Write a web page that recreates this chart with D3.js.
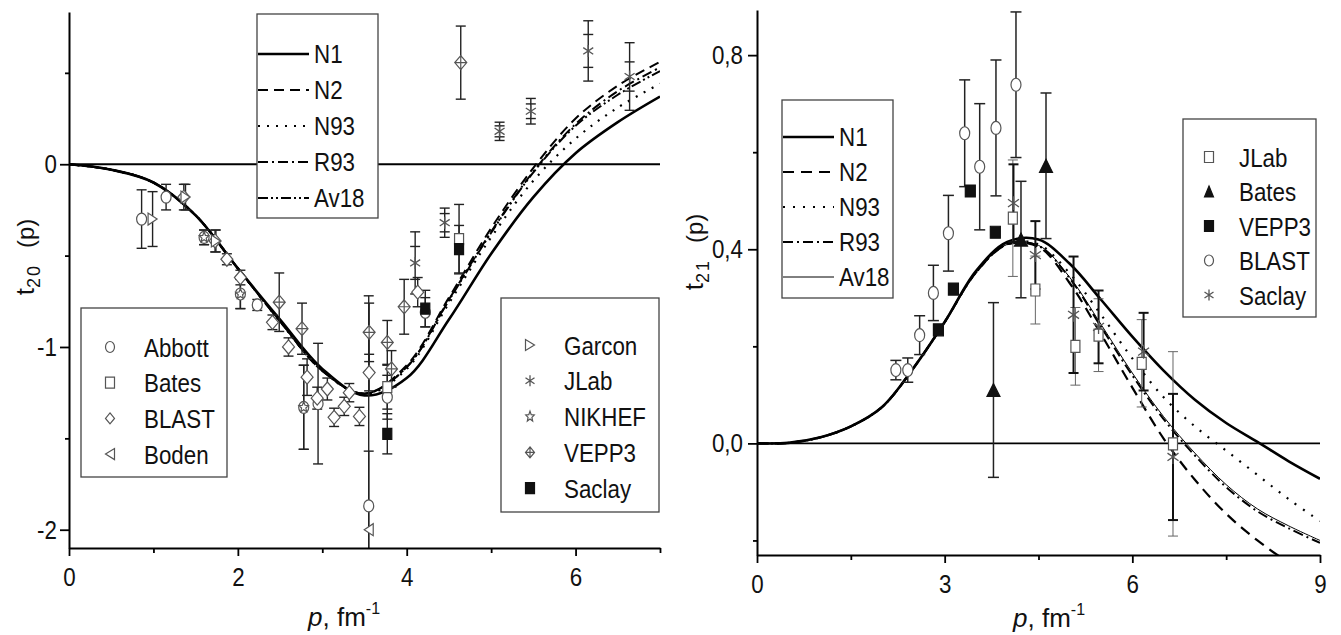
<!DOCTYPE html>
<html><head><meta charset="utf-8">
<script src="https://cdn.jsdelivr.net/npm/d3@7"></script>
<style>body{margin:0;background:#fff}svg{display:block}</style>
</head><body>
<svg id="c" width="1341" height="635"></svg>
<script>
// ---------------- DATA ----------------
const modelNames = ["N1", "N2", "N93", "R93", "Av18"];

// left panel: t20(p)
const t20CurveX = [0, 0.5, 1, 1.5, 2, 2.5, 3, 3.5, 4, 4.5, 5, 5.5, 6, 6.5, 7];
const t20N1   = [0, -0.03, -0.10, -0.28, -0.57, -0.85, -1.12, -1.265, -1.17, -0.85, -0.49, -0.18, 0.06, 0.23, 0.37];
const t20N2   = [0, -0.03, -0.10, -0.28, -0.57, -0.86, -1.13, -1.255, -1.10, -0.73, -0.35, -0.02, 0.25, 0.43, 0.56];
const t20N93  = [0, -0.03, -0.10, -0.28, -0.57, -0.86, -1.13, -1.26, -1.12, -0.76, -0.40, -0.09, 0.14, 0.31, 0.44];
const t20R93  = [0, -0.03, -0.10, -0.28, -0.57, -0.86, -1.13, -1.255, -1.11, -0.74, -0.37, -0.04, 0.22, 0.40, 0.53];
const t20Av18 = [0, -0.03, -0.10, -0.28, -0.57, -0.86, -1.13, -1.255, -1.11, -0.745, -0.375, -0.045, 0.21, 0.38, 0.51];

const t20AbbottX = [0.86, 1.15, 1.60, 2.03, 2.23, 2.78, 2.95, 3.55, 3.77, 4.22];
const t20AbbottY = [-0.30, -0.18, -0.40, -0.71, -0.77, -1.33, -1.31, -1.87, -1.275, -0.81];
const t20AbbottE = [0.16, 0.07, 0.04, 0.08, 0.03, 0.23, 0.33, 0.30, 0.12, 0.08];
const t20BatesX = [3.77, 4.62];
const t20BatesY = [-1.22, -0.41];
const t20BatesE = [0.12, 0.19];
const t20BlastX = [1.36, 1.73, 1.87, 2.03, 2.41, 2.60, 2.82, 2.94, 3.06, 3.14, 3.26, 3.32, 3.44, 3.555, 4.13];
const t20BlastY = [-0.18, -0.42, -0.52, -0.62, -0.865, -1.00, -1.165, -1.28, -1.23, -1.385, -1.325, -1.25, -1.38, -1.14, -0.70];
const t20BlastE = [0.07, 0.06, 0.03, 0.04, 0.04, 0.05, 0.10, 0.06, 0.06, 0.05, 0.05, 0.05, 0.05, 0.10, 0.08];
const t20BodenX = [3.55];
const t20BodenY = [-2.0];
const t20BodenE = [1.28];
const t20GarconX = [0.99, 1.38, 1.74];
const t20GarconY = [-0.30, -0.18, -0.42];
const t20GarconE = [0.15, 0.07, 0.06];
const t20JlabX = [4.10, 4.45, 5.10, 5.47, 6.15, 6.64];
const t20JlabY = [-0.54, -0.32, 0.18, 0.29, 0.62, 0.48];
const t20JlabE = [0.17, 0.08, 0.05, 0.07, 0.165, 0.185];
const t20JlabEstat = [0.09, 0.05, 0.03, 0.04, 0.09, 0.08];
const t20NikhefX = [1.60, 2.03, 2.78];
const t20NikhefY = [-0.40, -0.71, -1.33];
const t20NikhefE = [0.04, 0.08, 0.23];
const t20Vepp3X = [2.49, 2.76, 3.555, 3.77, 3.82, 3.97, 4.64];
const t20Vepp3Y = [-0.755, -0.90, -0.92, -0.975, -1.12, -0.78, 0.556];
const t20Vepp3E = [0.16, 0.14, 0.16, 0.12, 0.10, 0.15, 0.20];
const t20SaclayX = [3.77, 4.22, 4.62];
const t20SaclayY = [-1.475, -0.79, -0.465];
const t20SaclayE = [0.11, 0.10, 0.13];

const t20LegendNames = ["Abbott", "Bates", "BLAST", "Boden"];
const t20LegendNames2 = ["Garcon", "JLab", "NIKHEF", "VEPP3", "Saclay"];
const t20XTicks = [0, 2, 4, 6];
const t20XMinor = [1, 3, 5, 7];
const t20YTicks = [-2, -1, 0];
const t20YMinor = [-1.5, -0.5, 0.5];

// right panel: t21(p)
const t21CurveX = [0, 0.5, 1, 1.5, 2, 2.5, 3, 3.5, 4, 4.5, 5, 5.5, 6, 6.5, 7, 7.5, 8, 8.5, 9];
const t21N1   = [0, 0.001, 0.012, 0.035, 0.075, 0.155, 0.25, 0.355, 0.415, 0.42, 0.37, 0.296, 0.22, 0.15, 0.09, 0.042, 0.003, -0.037, -0.073];
const t21N2   = [0, 0.001, 0.012, 0.035, 0.075, 0.155, 0.25, 0.352, 0.41, 0.405, 0.33, 0.225, 0.115, 0.01, -0.075, -0.145, -0.20, -0.245, -0.28];
const t21N93  = [0, 0.001, 0.012, 0.035, 0.075, 0.155, 0.25, 0.352, 0.412, 0.41, 0.35, 0.265, 0.175, 0.095, 0.035, -0.015, -0.065, -0.115, -0.16];
const t21R93  = [0, 0.001, 0.012, 0.035, 0.075, 0.155, 0.25, 0.352, 0.41, 0.407, 0.34, 0.24, 0.14, 0.05, -0.025, -0.09, -0.14, -0.175, -0.205];
const t21Av18 = [0, 0.001, 0.012, 0.035, 0.075, 0.155, 0.25, 0.352, 0.41, 0.408, 0.342, 0.245, 0.145, 0.055, -0.02, -0.085, -0.135, -0.17, -0.20];

const t21JlabX = [4.09, 4.45, 5.09, 5.46, 6.15, 6.65];
const t21JlabY = [0.464, 0.316, 0.20, 0.223, 0.165, -0.001];
const t21JlabE = [0.12, 0.07, 0.08, 0.075, 0.09, 0.19];
const t21BatesX = [3.78, 4.22, 4.62];
const t21BatesY = [0.11, 0.42, 0.572];
const t21BatesE = [0.18, 0.12, 0.15];
const t21Vepp3X = [2.90, 3.14, 3.41, 3.81];
const t21Vepp3Y = [0.234, 0.318, 0.52, 0.435];
const t21Vepp3E = [0, 0, 0, 0];
const t21BlastX = [2.22, 2.41, 2.60, 2.82, 3.06, 3.32, 3.56, 3.82, 4.14];
const t21BlastY = [0.151, 0.151, 0.223, 0.31, 0.433, 0.639, 0.57, 0.65, 0.739];
const t21BlastE = [0.02, 0.025, 0.04, 0.057, 0.078, 0.11, 0.13, 0.14, 0.15];
const t21SaclayX = [4.10, 4.45, 5.06, 5.46, 6.18, 6.65];
const t21SaclayY = [0.495, 0.388, 0.265, 0.24, 0.189, -0.028];
const t21SaclayE = [0.08, 0.07, 0.12, 0.075, 0.08, 0.13];

const t21LegendNames = ["JLab", "Bates", "VEPP3", "BLAST", "Saclay"];
const t21XTicks = [0, 3, 6, 9];
const t21XMinor = [1.5, 4.5, 7.5];
const t21YTicks = [0, 0.4, 0.8];
const t21YMinor = [-0.2, 0.2, 0.6];

// ---------------- DRAWING ----------------
const FONT = "Arial, 'Liberation Sans', Helvetica, sans-serif";
const SX = 0.86;
const svg = d3.select("#c");

function txt(g, x, y, s, size, anchor) {
  return g.append("text")
    .attr("transform", `translate(${x},${y}) scale(${SX},1)`)
    .attr("font-family", FONT).attr("font-size", size)
    .attr("text-anchor", anchor || "start").attr("fill", "#111").text(s);
}

function markerD(type, w, h) {
  const a = w / 2, b = h / 2;
  switch (type) {
    case "circle": return `M${-a},0A${a},${b} 0 1,0 ${a},0A${a},${b} 0 1,0 ${-a},0Z`;
    case "square": case "fsquare": return `M${-a},${-b}H${a}V${b}H${-a}Z`;
    case "diamond": return `M0,${-b}L${a},0L0,${b}L${-a},0Z`;
    case "diamondPlus": return `M0,${-b}L${a},0L0,${b}L${-a},0ZM0,${-b}V${b}M${-a},0H${a}`;
    case "triL": return `M${-a},0L${a},${-b}L${a},${b}Z`;
    case "triR": return `M${a},0L${-a},${-b}L${-a},${b}Z`;
    case "triUp": return `M0,${-b}L${a},${b}L${-a},${b}Z`;
    case "asterisk": return `M0,${-b}V${b}M${-a},${-b * 0.55}L${a},${b * 0.55}M${-a},${b * 0.55}L${a},${-b * 0.55}`;
    case "star": {
      let d = "";
      for (let i = 0; i < 10; i++) {
        const ang = -Math.PI / 2 + i * Math.PI / 5;
        const r = i % 2 === 0 ? 1 : 0.45;
        d += (i === 0 ? "M" : "L") + (a * r * Math.cos(ang)).toFixed(2) + "," + (b * r * Math.sin(ang)).toFixed(2);
      }
      return d + "Z";
    }
  }
}
function marker(g, type, x, y, w, h) {
  const filled = type === "fsquare" || type === "triUp";
  g.append("path").attr("d", markerD(type, w, h))
    .attr("transform", `translate(${x},${y})`)
    .attr("fill", filled ? "#111" : (type === "asterisk" ? "none" : "#fff"))
    .attr("stroke", filled ? "#111" : "#555")
    .attr("stroke-width", type === "asterisk" ? 1.3 : 1.2);
}

function errorBars(g, sx, sy, xs, ys, es, opt) {
  const cap = opt.cap || 10;
  xs.forEach((x, i) => {
    const e = es[i];
    if (!e) return;
    const X = sx(x), Y1 = sy(ys[i] + e), Y2 = sy(ys[i] - e);
    g.append("line").attr("x1", X).attr("x2", X).attr("y1", Y1).attr("y2", Y2)
      .attr("stroke", opt.color).attr("stroke-width", opt.width);
    [Y1, Y2].forEach(Y => g.append("line").attr("x1", X - cap / 2).attr("x2", X + cap / 2)
      .attr("y1", Y).attr("y2", Y).attr("stroke", opt.color).attr("stroke-width", opt.width));
    if (opt.stat) {
      const s = opt.stat[i];
      [sy(ys[i] + s), sy(ys[i] - s)].forEach(Y => g.append("line").attr("x1", X - cap / 2).attr("x2", X + cap / 2)
        .attr("y1", Y).attr("y2", Y).attr("stroke", opt.color).attr("stroke-width", opt.width));
    }
  });
}

function axes(g, sx, sy, xMaj, xMin, yMaj, yMin, fx, fy, yPad) {
  const y0 = sy.range()[0], x0 = sx.range()[0];
  const style = (sel) => {
    sel.selectAll("path.domain").attr("stroke", "#000").attr("stroke-width", 2);
    sel.selectAll(".tick line").attr("stroke", "#000").attr("stroke-width", 1.8);
    sel.selectAll(".tick text").attr("font-family", FONT).attr("font-size", 26).attr("fill", "#111");
  };
  const xa = g.append("g").attr("transform", `translate(0,${y0})`)
    .call(d3.axisBottom(sx).tickValues(xMaj).tickSize(8).tickSizeOuter(0).tickPadding(12).tickFormat(fx));
  style(xa);
  xa.selectAll(".tick text").attr("transform", `scale(${SX},1)`);
  const xm = g.append("g").attr("transform", `translate(0,${y0})`)
    .call(d3.axisBottom(sx).tickValues(xMin).tickSize(5).tickSizeOuter(0).tickFormat(""));
  style(xm); xm.select("path.domain").remove();
  const ya = g.append("g").attr("transform", `translate(${x0},0)`)
    .call(d3.axisLeft(sy).tickValues(yMaj).tickSize(9).tickSizeOuter(0).tickPadding(yPad).tickFormat(fy));
  style(ya);
  ya.selectAll(".tick text").each(function () {
    const t = d3.select(this); const xx = +t.attr("x");
    t.attr("x", 0).attr("transform", `translate(${xx},0) scale(${SX},1)`);
  });
  const ym = g.append("g").attr("transform", `translate(${x0},0)`)
    .call(d3.axisLeft(sy).tickValues(yMin).tickSize(4).tickSizeOuter(0).tickFormat(""));
  style(ym); ym.select("path.domain").remove();
}

function curves(g, sx, sy, xs, series, styles, clipId) {
  const line = d3.line().x((d) => sx(d[0])).y((d) => sy(d[1])).curve(d3.curveCatmullRom.alpha(0.5));
  const cg = g.append("g").attr("clip-path", `url(#${clipId})`);
  series.forEach((ys, k) => {
    cg.append("path").datum(xs.map((x, i) => [x, ys[i]])).attr("d", line)
      .attr("fill", "none").attr("stroke", "#000")
      .attr("stroke-width", styles[k].w).attr("stroke-dasharray", styles[k].dash || null);
  });
}

function clip(id, sx, sy) {
  svg.append("clipPath").attr("id", id).append("rect")
    .attr("x", sx.range()[0]).attr("y", sy.range()[1])
    .attr("width", sx.range()[1] - sx.range()[0]).attr("height", sy.range()[0] - sy.range()[1]);
}

function lineLegend(g, x0, y0, x1, y1, firstY, step, styles) {
  g.append("rect").attr("x", x0).attr("y", y0).attr("width", x1 - x0).attr("height", y1 - y0)
    .attr("fill", "#fff").attr("stroke", "#444").attr("stroke-width", 1.3);
  modelNames.forEach((n, i) => {
    const y = firstY + i * step;
    g.append("line").attr("x1", x0 + 1).attr("x2", x0 + 52).attr("y1", y).attr("y2", y)
      .attr("stroke", "#000").attr("stroke-width", styles[i].w).attr("stroke-dasharray", styles[i].dash || null);
    txt(g, x0 + 57, y + 9, n, 26, "start");
  });
}
function markerLegend(g, x0, y0, x1, y1, firstY, step, names, types, mx, tx, w, h) {
  g.append("rect").attr("x", x0).attr("y", y0).attr("width", x1 - x0).attr("height", y1 - y0)
    .attr("fill", "#fff").attr("stroke", "#444").attr("stroke-width", 1.3);
  names.forEach((n, i) => {
    const y = firstY + i * step;
    marker(g, types[i], mx, y, w, h);
    txt(g, tx, y + 9.5, n, 26, "start");
  });
}

// ---------- LEFT PANEL ----------
{
  const sx = d3.scaleLinear().domain([0, 7]).range([69, 660]);
  const sy = d3.scaleLinear().domain([-2.1, 0.833]).range([548, 12]);
  clip("clipL", sx, sy);
  const g = svg.append("g");
  g.append("line").attr("x1", sx(0)).attr("x2", sx(7)).attr("y1", sy(0)).attr("y2", sy(0))
    .attr("stroke", "#000").attr("stroke-width", 1.8);
  const stylesL = [{ w: 2.6 }, { w: 2, dash: "10,6" }, { w: 2.2, dash: "2,7" }, { w: 2, dash: "10,4,2,4" }, { w: 2, dash: "10,3,2,3,2,3" }];
  curves(g, sx, sy, t20CurveX, [t20N1, t20N2, t20N93, t20R93, t20Av18], stylesL, "clipL");

  const eg = g.append("g").attr("clip-path", "url(#clipL)");
  const eo = { color: "#222", width: 1.4, cap: 10 };
  errorBars(eg, sx, sy, t20AbbottX, t20AbbottY, t20AbbottE, eo);
  errorBars(eg, sx, sy, t20BatesX, t20BatesY, t20BatesE, eo);
  errorBars(eg, sx, sy, t20BlastX, t20BlastY, t20BlastE, eo);
  errorBars(eg, sx, sy, t20BodenX, t20BodenY, t20BodenE, eo);
  errorBars(eg, sx, sy, t20GarconX, t20GarconY, t20GarconE, eo);
  errorBars(eg, sx, sy, t20JlabX, t20JlabY, t20JlabE, Object.assign({ stat: t20JlabEstat }, eo));
  errorBars(eg, sx, sy, t20NikhefX, t20NikhefY, t20NikhefE, eo);
  errorBars(eg, sx, sy, t20Vepp3X, t20Vepp3Y, t20Vepp3E, eo);
  errorBars(eg, sx, sy, t20SaclayX, t20SaclayY, t20SaclayE, eo);

  const mg = g.append("g");
  const W = 10, H = 12;
  t20AbbottX.forEach((x, i) => marker(mg, "circle", sx(x), sy(t20AbbottY[i]), W, H));
  t20BatesX.forEach((x, i) => marker(mg, "square", sx(x), sy(t20BatesY[i]), 9, 11));
  t20BlastX.forEach((x, i) => marker(mg, "diamond", sx(x), sy(t20BlastY[i]), 12, 14));
  t20BodenX.forEach((x, i) => marker(mg, "triL", sx(x), sy(t20BodenY[i]), 9, 12));
  t20GarconX.forEach((x, i) => marker(mg, "triR", sx(x), sy(t20GarconY[i]), 9, 12));
  t20NikhefX.forEach((x, i) => marker(mg, "star", sx(x), sy(t20NikhefY[i]), 10, 11));
  t20Vepp3X.forEach((x, i) => marker(mg, "diamondPlus", sx(x), sy(t20Vepp3Y[i]), 12, 14));
  t20JlabX.forEach((x, i) => marker(mg, "asterisk", sx(x), sy(t20JlabY[i]), 10, 12));
  t20SaclayX.forEach((x, i) => marker(mg, "fsquare", sx(x), sy(t20SaclayY[i]), 9, 11));

  lineLegend(g, 257, 14, 378, 218, 54, 36, stylesL);
  markerLegend(g, 81, 308, 227, 477, 347, 35.7, t20LegendNames, ["circle", "square", "diamond", "triL"], 110, 144, 9, 11);
  markerLegend(g, 501, 298, 659, 512, 345, 35.8, t20LegendNames2, ["triR", "asterisk", "star", "diamondPlus", "fsquare"], 530, 564, 9, 11);

  axes(g, sx, sy, t20XTicks, t20XMinor, t20YTicks, t20YMinor, (d) => String(d), (d) => String(d), 3);

  // axis titles
  const yt = g.append("text").attr("transform", "translate(34,257) rotate(-90)")
    .attr("font-family", FONT).attr("font-size", 26).attr("text-anchor", "middle").attr("fill", "#111");
  yt.append("tspan").text("t");
  yt.append("tspan").text("20").attr("font-size", 18).attr("dy", 6).attr("letter-spacing", 2);
  yt.append("tspan").text("(p)").attr("font-size", 24).attr("dy", -6).attr("dx", 16);
  const xt = g.append("text").attr("x", 308).attr("y", 626)
    .attr("font-family", FONT).attr("font-size", 26).attr("fill", "#111");
  xt.append("tspan").text("p").attr("font-style", "italic");
  xt.append("tspan").text(", fm");
  xt.append("tspan").text("-1").attr("font-size", 16).attr("dy", -12);
}

// ---------- RIGHT PANEL ----------
{
  const sx = d3.scaleLinear().domain([0, 9]).range([757, 1320]);
  const sy = d3.scaleLinear().domain([-0.23, 0.893]).range([555, 10]);
  clip("clipR", sx, sy);
  const g = svg.append("g");
  g.append("line").attr("x1", sx(0)).attr("x2", sx(9)).attr("y1", sy(0)).attr("y2", sy(0))
    .attr("stroke", "#000").attr("stroke-width", 1.8);
  const stylesR = [{ w: 2.6 }, { w: 2.2, dash: "11,7" }, { w: 2.2, dash: "2,8" }, { w: 2, dash: "10,4,2,4" }, { w: 1 }];
  curves(g, sx, sy, t21CurveX, [t21N1, t21N2, t21N93, t21R93, t21Av18], stylesR, "clipR");

  const eg = g.append("g").attr("clip-path", "url(#clipR)");
  errorBars(eg, sx, sy, t21BlastX, t21BlastY, t21BlastE, { color: "#222", width: 1.5, cap: 11 });
  errorBars(eg, sx, sy, t21BatesX, t21BatesY, t21BatesE, { color: "#222", width: 1.5, cap: 11 });
  errorBars(eg, sx, sy, t21JlabX, t21JlabY, t21JlabE, { color: "#666", width: 1, cap: 10 });
  errorBars(eg, sx, sy, t21SaclayX, t21SaclayY, t21SaclayE, { color: "#111", width: 2, cap: 10 });
  errorBars(eg, sx, sy, t21Vepp3X, t21Vepp3Y, t21Vepp3E, { color: "#222", width: 1.5, cap: 10 });

  const mg = g.append("g");
  t21BlastX.forEach((x, i) => marker(mg, "circle", sx(x), sy(t21BlastY[i]), 10, 13));
  t21Vepp3X.forEach((x, i) => marker(mg, "fsquare", sx(x), sy(t21Vepp3Y[i]), 10, 12));
  t21BatesX.forEach((x, i) => marker(mg, "triUp", sx(x), sy(t21BatesY[i]), 13, 13));
  t21JlabX.forEach((x, i) => marker(mg, "square", sx(x), sy(t21JlabY[i]), 9, 12));
  t21SaclayX.forEach((x, i) => marker(mg, "asterisk", sx(x), sy(t21SaclayY[i]), 11, 14));

  lineLegend(g, 782, 100, 893, 298, 137, 35, stylesR);
  markerLegend(g, 1183, 119, 1316, 317, 157, 34.5, t21LegendNames, ["square", "triUp", "fsquare", "circle", "asterisk"], 1209, 1239, 9, 11);

  const fmt = (d) => d.toFixed(1).replace(".", ",");
  axes(g, sx, sy, t21XTicks, t21XMinor, t21YTicks, t21YMinor, (d) => String(d), fmt, 5);

  const yt = g.append("text").attr("transform", "translate(703,252) rotate(-90)")
    .attr("font-family", FONT).attr("font-size", 26).attr("text-anchor", "middle").attr("fill", "#111");
  yt.append("tspan").text("t");
  yt.append("tspan").text("21").attr("font-size", 18).attr("dy", 6).attr("letter-spacing", 2);
  yt.append("tspan").text("(p)").attr("font-size", 24).attr("dy", -6).attr("dx", 16);
  const xt = g.append("text").attr("x", 1013).attr("y", 627)
    .attr("font-family", FONT).attr("font-size", 26).attr("fill", "#111");
  xt.append("tspan").text("p").attr("font-style", "italic");
  xt.append("tspan").text(", fm");
  xt.append("tspan").text("-1").attr("font-size", 16).attr("dy", -12);
}
</script>
</body></html>
